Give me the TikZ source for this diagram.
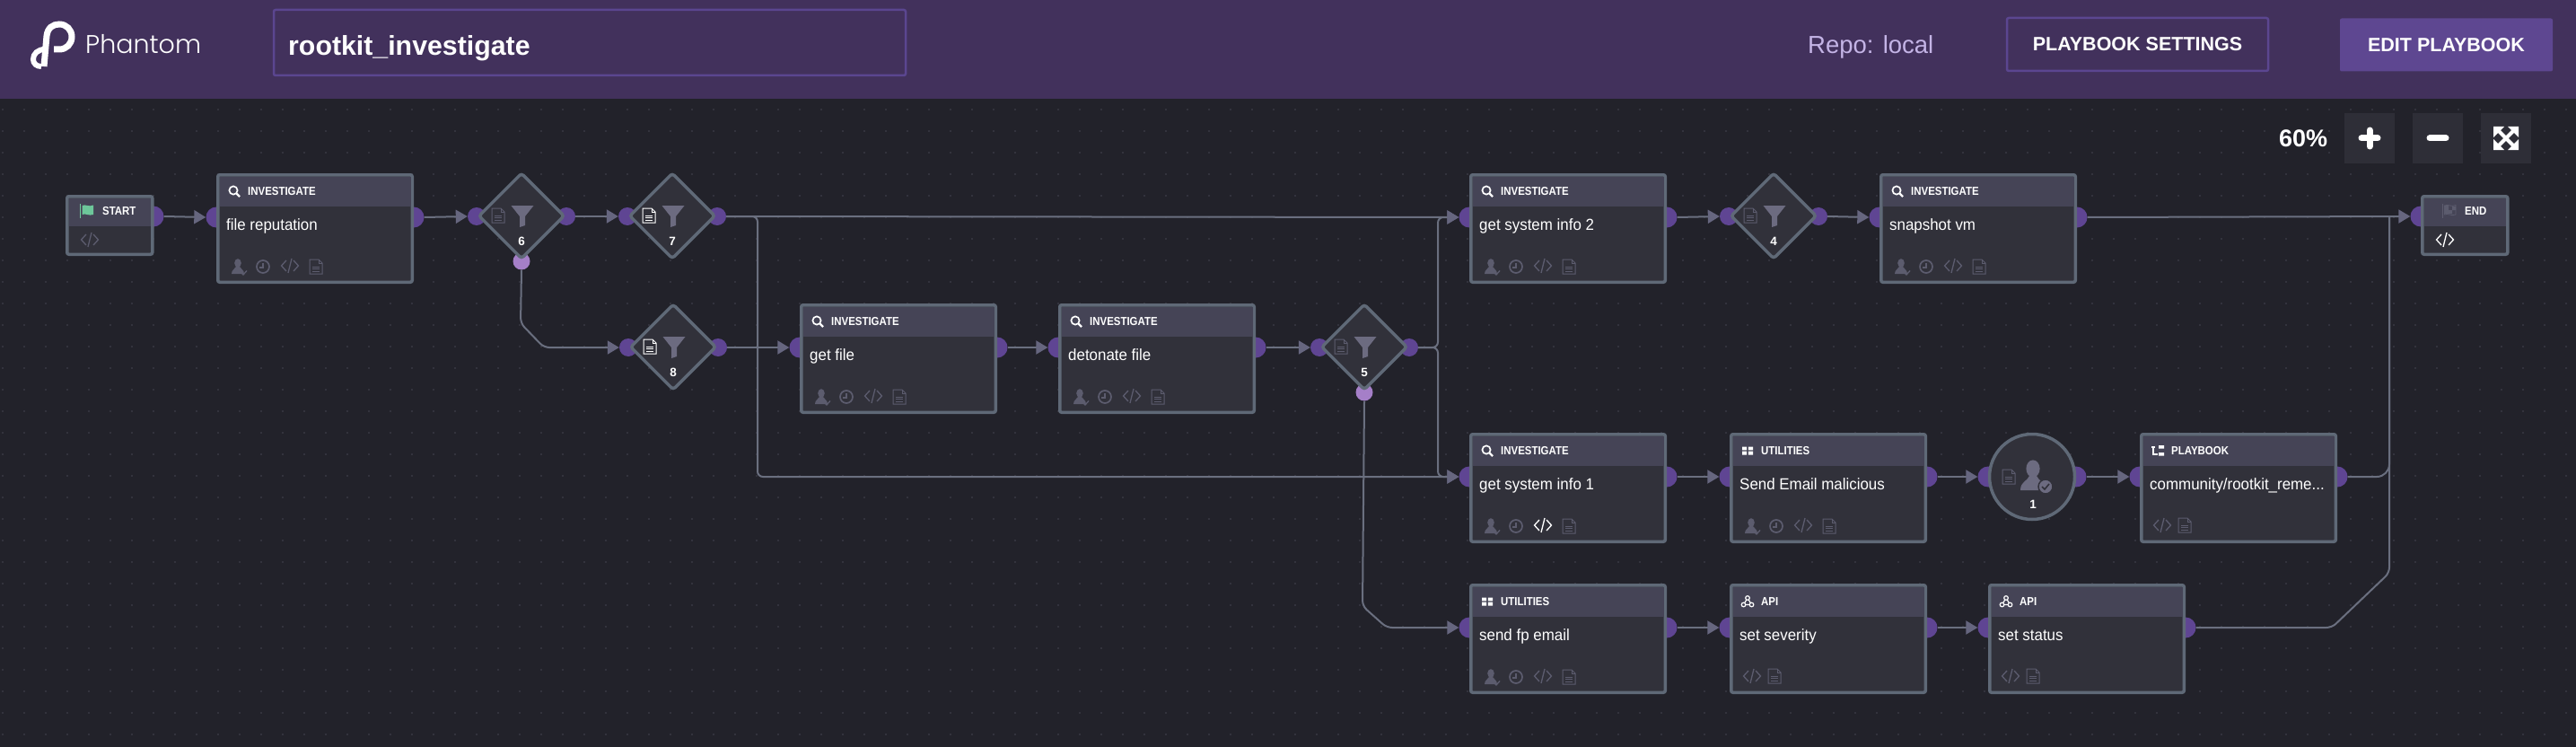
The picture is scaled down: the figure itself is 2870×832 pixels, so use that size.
\documentclass[tikz,border=0pt]{standalone}
\usepackage{fontspec}
\setmainfont{Liberation Sans}
\newfontfamily\logofont{Poppins Light}
\newfontfamily\titlefont[FakeStretch=0.95]{Liberation Sans}
\newfontfamily\kindfont[FakeStretch=0.88]{Liberation Sans}
\usetikzlibrary{positioning,arrows.meta,shapes.geometric}
\definecolor{barpurple}{HTML}{42315C}
\definecolor{canvas}{HTML}{22222A}
\definecolor{griddot}{HTML}{3A3A44}
\definecolor{boxfill}{HTML}{31313A}
\definecolor{headfill}{HTML}{454456}
\definecolor{boxline}{HTML}{5F6977}
\definecolor{portfill}{HTML}{5F4593}
\definecolor{portlight}{HTML}{A57FC8}
\definecolor{wireline}{HTML}{6A6F7F}
\definecolor{tipfill}{HTML}{66667F}
\definecolor{iconoff}{HTML}{5C5C6E}
\definecolor{funnelfill}{HTML}{6C6B80}
\definecolor{inputline}{HTML}{5B4690}
\definecolor{btnfill}{HTML}{5E4791}
\definecolor{repotext}{HTML}{C4B4E6}
\definecolor{flaggreen}{HTML}{6DC79A}
\definecolor{zoomfill}{HTML}{2E2E37}
\tikzset{
	port/.style={circle, fill=portfill, minimum size=23pt, inner sep=0pt},
	smallport/.style={circle, fill=portfill, minimum size=20pt, inner sep=0pt},
	lowport/.style={circle, fill=portlight, minimum size=19pt, inner sep=0pt},
	actbox/.style={rectangle, draw=boxline, fill=boxfill, line width=3.5pt, rounded corners=2pt, inner sep=0pt, outer sep=0pt, anchor=north west},
	acthead/.style={rectangle, fill=headfill, inner sep=0pt, outer sep=0pt, anchor=north west},
	filterbox/.style={diamond, aspect=1, draw=boxline, fill=boxfill, line width=3.5pt, rounded corners=3pt, inner sep=0pt, minimum width=96pt, minimum height=96pt},
	promptbox/.style={circle, draw=boxline, fill=boxfill, line width=3.5pt, inner sep=0pt, minimum size=95pt},
	kindtext/.style={inner sep=0pt, anchor=base west, text=white, font=\kindfont\fontsize{13}{15}\selectfont\bfseries},
	titletext/.style={inner sep=0pt, anchor=base west, text=white, font=\titlefont\fontsize{17.8}{20}\selectfont},
	numtext/.style={inner sep=0pt, text=white, font=\fontsize{13.5}{15}\selectfont\bfseries},
	wire/.style={draw=wireline, line width=2pt, rounded corners=6pt},
	wirearrow/.style={wire, -{Triangle[length=13pt,width=15pt,fill=tipfill,color=tipfill]}},
	topbtn/.style={rectangle, inner sep=0pt, rounded corners=2pt, text=white, font=\fontsize{21.5}{24}\selectfont\bfseries, minimum height=59pt},
	zoombtn/.style={rectangle, fill=zoomfill, inner sep=0pt, minimum width=56pt, minimum height=56pt},
	pics/iconsearch/.style={code={
		\draw[line width=1.7pt] (-1,-1) circle[radius=4.6];
		\draw[line width=2.2pt] (2.4,2.4) -- (6,6);
	}},
	pics/iconperson/.style={code={
		\fill (0,-4) ellipse[x radius=3.8, y radius=4.8];
		\fill (-7,8) .. controls (-7,3) and (-3,3) .. (-2,0) -- (2,0) .. controls (3,3) and (7,3) .. (7,8) -- cycle;
	}},
	pics/iconuser/.style={code={
		\pic {iconperson};
		\draw[line width=1.3pt] (4,7) -- (6,9) -- (10,4.5);
	}},
	pics/iconclock/.style={code={
		\draw[line width=1.7pt] (0,0) circle[radius=7];
		\draw[line width=1.2pt] (0,-4.5) -- (0,1) -- (-4,1);
	}},
	pics/iconcode/.style={code={
		\draw[line width=1.3pt] (-4,-6) -- (-9.5,0) -- (-4,6);
		\draw[line width=1.3pt] (4,-6) -- (9.5,0) -- (4,6);
		\draw[line width=1.3pt] (2,-8) -- (-2,8);
	}},
	pics/icondoc/.style={code={
		\draw[line width=1pt] (-7,-8) -- (3,-8) -- (7,-4) -- (7,8) -- (-7,8) -- cycle;
		\draw[line width=1pt] (3,-8) -- (3,-4) -- (7,-4);
		\draw[line width=1pt] (-4,0) -- (4,0) (-4,2.7) -- (4,2.7) (-4,5.4) -- (4,5.4);
	}},
	pics/iconfunnel/.style={code={
		\fill (-12.5,-12) -- (12.5,-12) -- (3,0) -- (3,10) -- (-3,12) -- (-3,0) -- cycle;
	}},
	pics/icongrid/.style={code={
		\fill (-6,-4.5) rectangle (-0.8,-0.6) (0.8,-4.5) rectangle (6,-0.6);
		\fill (-6,0.6) rectangle (-0.8,4.5) (0.8,0.6) rectangle (6,4.5);
	}},
	pics/iconapi/.style={code={
		\draw[line width=1.2pt] (0,-4) -- (-4.5,3.5) -- (4.5,3.5) -- cycle;
		\draw[line width=1.2pt, fill=headfill] (0,-4) circle[radius=2.3] (-4.5,3.5) circle[radius=2.3] (4.5,3.5) circle[radius=2.3];
	}},
	pics/icontree/.style={code={
		\fill (-7,-5) -- (-3,-5) -- (-3,-3) -- (-7,-3) -- cycle;
		\draw[line width=1.6pt] (-5,-5) -- (-5,4) -- (0,4);
		\fill (1,-6) rectangle (7,-2.5) (1,2) rectangle (7,5.5);
	}},
	pics/iconflag/.style={code={
		\draw[line width=1pt] (-7.5,-8) -- (-7.5,8);
		\fill (-5.5,-6) .. controls (-2,-8) and (2,-4) .. (7,-6.5) -- (7,4) .. controls (2,6) and (-2,2) .. (-5.5,4) -- cycle;
	}},
	pics/iconchequer/.style={code={
		\draw[line width=1pt] (-7.5,-8) -- (-7.5,8);
		\draw[line width=0.8pt] (-5.5,-6) .. controls (-2,-8) and (2,-4) .. (7,-6.5) -- (7,4) .. controls (2,6) and (-2,2) .. (-5.5,4) -- cycle;
		\fill (-5.5,-6) rectangle (-1,-1) (-1,-1) rectangle (3,3) (3,-5) rectangle (7,-1) (-5.5,3) rectangle (-1,-1);
	}}
}
\newcommand{\actionbox}[6]{
	\node[port] (#1-in) at (#2,#3+49) {};
	\node[port] (#1-out) at (#2+220,#3+49) {};
	\node[actbox, minimum width=216.5pt, minimum height=119.5pt] (#1) at (#2+1.75,#3+1.75) {};
	\node[acthead, minimum width=213pt, minimum height=33.5pt] (#1-head) at (#2+3.5,#3+3.5) {};
	\pic[color=white] at (#2+20,#3+20) {#4};
	\node[kindtext] (#1-kind) at (#2+35,#3+24) {#5};
	\node[titletext] (#1-title) at (#2+11,#3+63) {#6};
}
\newcommand{\fourtools}[3]{
	\pic[color=iconoff] at (#2+24,#3+104) {iconuser};
	\pic[color=iconoff] at (#2+52,#3+104) {iconclock};
	\pic[color=#1] at (#2+82,#3+103) {iconcode};
	\pic[color=iconoff] at (#2+111,#3+104) {icondoc};
}
\newcommand{\twotools}[2]{
	\pic[color=iconoff] at (#1+25,#2+103) {iconcode};
	\pic[color=iconoff] at (#1+50,#2+103) {icondoc};
}
\newcommand{\filterdiamond}[5]{
	\node[smallport] (#1-in) at (#2-50,#3) {};
	\node[smallport] (#1-out) at (#2+50,#3) {};
	\node[filterbox] (#1) at (#2,#3-0.5) {};
	\pic[color=#4] at (#2-26,#3-1) {icondoc};
	\pic[color=funnelfill] at (#2+1,#3) {iconfunnel};
	\node[numtext] (#1-num) at (#2,#3+28) {#5};
}
\begin{document}
\begin{tikzpicture}[x=1pt, y=-1pt]
\useasboundingbox (0,0) rectangle (2870,832);
\fill[canvas] (0,0) rectangle (2870,832);
\foreach \gx in {3,27,...,2870}
	\foreach \gy in {122,146,...,832}
		\fill[griddot] (\gx,\gy) circle[radius=1.2];
\fill[barpurple] (0,0) rectangle (2870,110);
\draw[white, line width=7pt] (49,74) -- (52,40) .. controls (53,31) and (59,27) .. (66,27) .. controls (74,27) and (80,33) .. (80,41) .. controls (80,49) and (74,55) .. (66,55) -- (60,55);
\draw[white, line width=6pt] (50,55) .. controls (42,55) and (37,60) .. (37,66) .. controls (37,71) and (41,74) .. (46,74);
\node[inner sep=0pt, anchor=base west, text=white, font=\logofont\fontsize{28.5}{31}\selectfont] (logotext) at (95,60) {Phantom};
\node[rectangle, draw=inputline, line width=2.5pt, rounded corners=2pt, outer sep=0pt, minimum width=704pt, minimum height=73pt, inner sep=0pt, anchor=north west] (namefield) at (305,11) {};
\node[inner sep=0pt, anchor=base west, text=white, font=\fontsize{30.3}{34}\selectfont\bfseries] (nametext) at (321,62) {rootkit\_investigate};
\node[inner sep=0pt, anchor=base west, text=repotext, font=\fontsize{27.5}{30}\selectfont] (repotext) at (2014,60) {Repo: local};
\node[topbtn, draw=inputline, line width=2.5pt, outer sep=0pt, minimum width=291pt] (settingsbtn) at (2381.5,49.5) {PLAYBOOK SETTINGS};
\node[topbtn, fill=btnfill, minimum width=237pt] (editbtn) at (2725.5,50) {EDIT PLAYBOOK};
\node[inner sep=0pt, text=white, font=\fontsize{27}{30}\selectfont\bfseries] (zoomtext) at (2566,154) {60\%};
\node[zoombtn] (plusbtn) at (2640,154) {};
\node[zoombtn] (minusbtn) at (2716,154) {};
\node[zoombtn] (fitbtn) at (2792,154) {};
\draw[white, line width=7pt, line cap=round] (2631,154) -- (2649,154) (2640,145) -- (2640,163);
\draw[white, line width=7pt, line cap=round] (2707,154) -- (2725,154);
\draw[white, line width=4pt] (2781,143) -- (2803,165) (2803,143) -- (2781,165);
\fill[white] (2778,141) -- (2790,141) -- (2778,153) -- cycle (2806,141) -- (2794,141) -- (2806,153) -- cycle (2778,167) -- (2790,167) -- (2778,155) -- cycle (2806,167) -- (2794,167) -- (2806,155) -- cycle;

\node[port] (start-out) at (171,241) {};
\node[actbox, minimum width=95pt, minimum height=64.5pt] (start) at (74.75,218.75) {};
\node[acthead, minimum width=91.5pt, minimum height=31.5pt] (start-head) at (76.5,220.5) {};
\pic[color=flaggreen] at (97,235) {iconflag};
\node[kindtext] (start-kind) at (114,239.5) {START};
\pic[color=iconoff] at (100,267) {iconcode};

\actionbox{reputation}{241}{193}{iconsearch}{INVESTIGATE}{file reputation}
\fourtools{iconoff}{241}{193}
\node[lowport] (d6-low) at (581,291) {};
\filterdiamond{d6}{581}{241}{iconoff}{6}
\filterdiamond{d7}{749}{241}{white}{7}
\filterdiamond{d8}{750}{387}{white}{8}

\actionbox{getfile}{891}{338}{iconsearch}{INVESTIGATE}{get file}
\fourtools{iconoff}{891}{338}
\actionbox{detonate}{1179}{338}{iconsearch}{INVESTIGATE}{detonate file}
\fourtools{iconoff}{1179}{338}
\node[lowport] (d5-low) at (1520,437) {};
\filterdiamond{d5}{1520}{387}{iconoff}{5}

\actionbox{info2}{1637}{193}{iconsearch}{INVESTIGATE}{get system info 2}
\fourtools{iconoff}{1637}{193}
\filterdiamond{d4}{1976}{241}{iconoff}{4}
\actionbox{snapshot}{2094}{193}{iconsearch}{INVESTIGATE}{snapshot vm}
\fourtools{iconoff}{2094}{193}

\actionbox{info1}{1637}{482}{iconsearch}{INVESTIGATE}{get system info 1}
\fourtools{white}{1637}{482}
\actionbox{malicious}{1927}{482}{icongrid}{UTILITIES}{Send Email malicious}
\fourtools{iconoff}{1927}{482}
\node[port] (prompt-in) at (2215,531) {};
\node[port] (prompt-out) at (2313,531) {};
\node[promptbox] (prompt) at (2264,531) {};
\pic[color=iconoff] at (2238,531) {icondoc};
\pic[color=funnelfill, scale=2] at (2265,530) {iconperson};
\node[circle, fill=funnelfill, draw=boxfill, line width=1.5pt, minimum size=16pt, inner sep=0pt] (prompt-badge) at (2279,542) {};
\draw[boxfill, line width=1.6pt] (2275,542) -- (2278,545) -- (2283,539);
\node[numtext] (prompt-num) at (2265,562) {1};
\actionbox{remediate}{2384}{482}{icontree}{PLAYBOOK}{community/rootkit\_reme...}
\twotools{2384}{482}

\actionbox{fpemail}{1637}{650}{icongrid}{UTILITIES}{send fp email}
\fourtools{iconoff}{1637}{650}
\actionbox{severity}{1927}{650}{iconapi}{API}{set severity}
\twotools{1927}{650}
\actionbox{status}{2215}{650}{iconapi}{API}{set status}
\twotools{2215}{650}

\node[port] (end-in) at (2697,241) {};
\node[actbox, minimum width=95pt, minimum height=64.5pt] (end) at (2698.75,218.75) {};
\node[acthead, minimum width=91.5pt, minimum height=31.5pt] (end-head) at (2700.5,220.5) {};
\pic[color=iconoff] at (2729,235) {iconchequer};
\node[kindtext] (end-kind) at (2746,239.5) {END};
\pic[color=white] at (2724,267) {iconcode};

\coordinate (bus7) at (844,531);
\coordinate (bus5) at (1602,387);
\coordinate (busend) at (2662,241);
\coordinate (drop6) at (580,360);
\coordinate (turn6) at (606,387);
\coordinate (drop5) at (1518,675);
\coordinate (turn5) at (1545,699);
\coordinate (turnstatus) at (2598,699);
\coordinate (risestatus) at (2662,638);

\draw[wirearrow] (start-out.east) -- (reputation-in.west);
\draw[wirearrow] (reputation-out.east) -- (d6-in.west);
\draw[wirearrow] (d6-out.east) -- (d7-in.west);
\draw[wirearrow] (d7-out.east) -- (info2-in.west);
\draw[wirearrow] (d7-out.east) -| (bus7) -- (info1-in.west);
\draw[wirearrow] (d6-low.south) -- (drop6) -- (turn6) -- (d8-in.west);
\draw[wirearrow] (d8-out.east) -- (getfile-in.west);
\draw[wirearrow] (getfile-out.east) -- (detonate-in.west);
\draw[wirearrow] (detonate-out.east) -- (d5-in.west);
\draw[wirearrow] (d5-out.east) -- (bus5) |- (info2-in.west);
\draw[wirearrow] (d5-out.east) -- (bus5) |- (info1-in.west);
\draw[wirearrow] (d5-low.south) -- (drop5) -- (turn5) -- (fpemail-in.west);
\draw[wirearrow] (info2-out.east) -- (d4-in.west);
\draw[wirearrow] (d4-out.east) -- (snapshot-in.west);
\draw[wirearrow] (snapshot-out.east) -- (end-in.west);
\draw[wirearrow] (info1-out.east) -- (malicious-in.west);
\draw[wirearrow] (malicious-out.east) -- (prompt-in.west);
\draw[wirearrow] (prompt-out.east) -- (remediate-in.west);
\draw[wirearrow] (fpemail-out.east) -- (severity-in.west);
\draw[wirearrow] (severity-out.east) -- (status-in.west);
\draw[wire, rounded corners=14pt] (remediate-out.east) -| (busend);
\draw[wire] (status-out.east) -- (turnstatus) -- (risestatus) -- (busend);
\end{tikzpicture}
\end{document}
